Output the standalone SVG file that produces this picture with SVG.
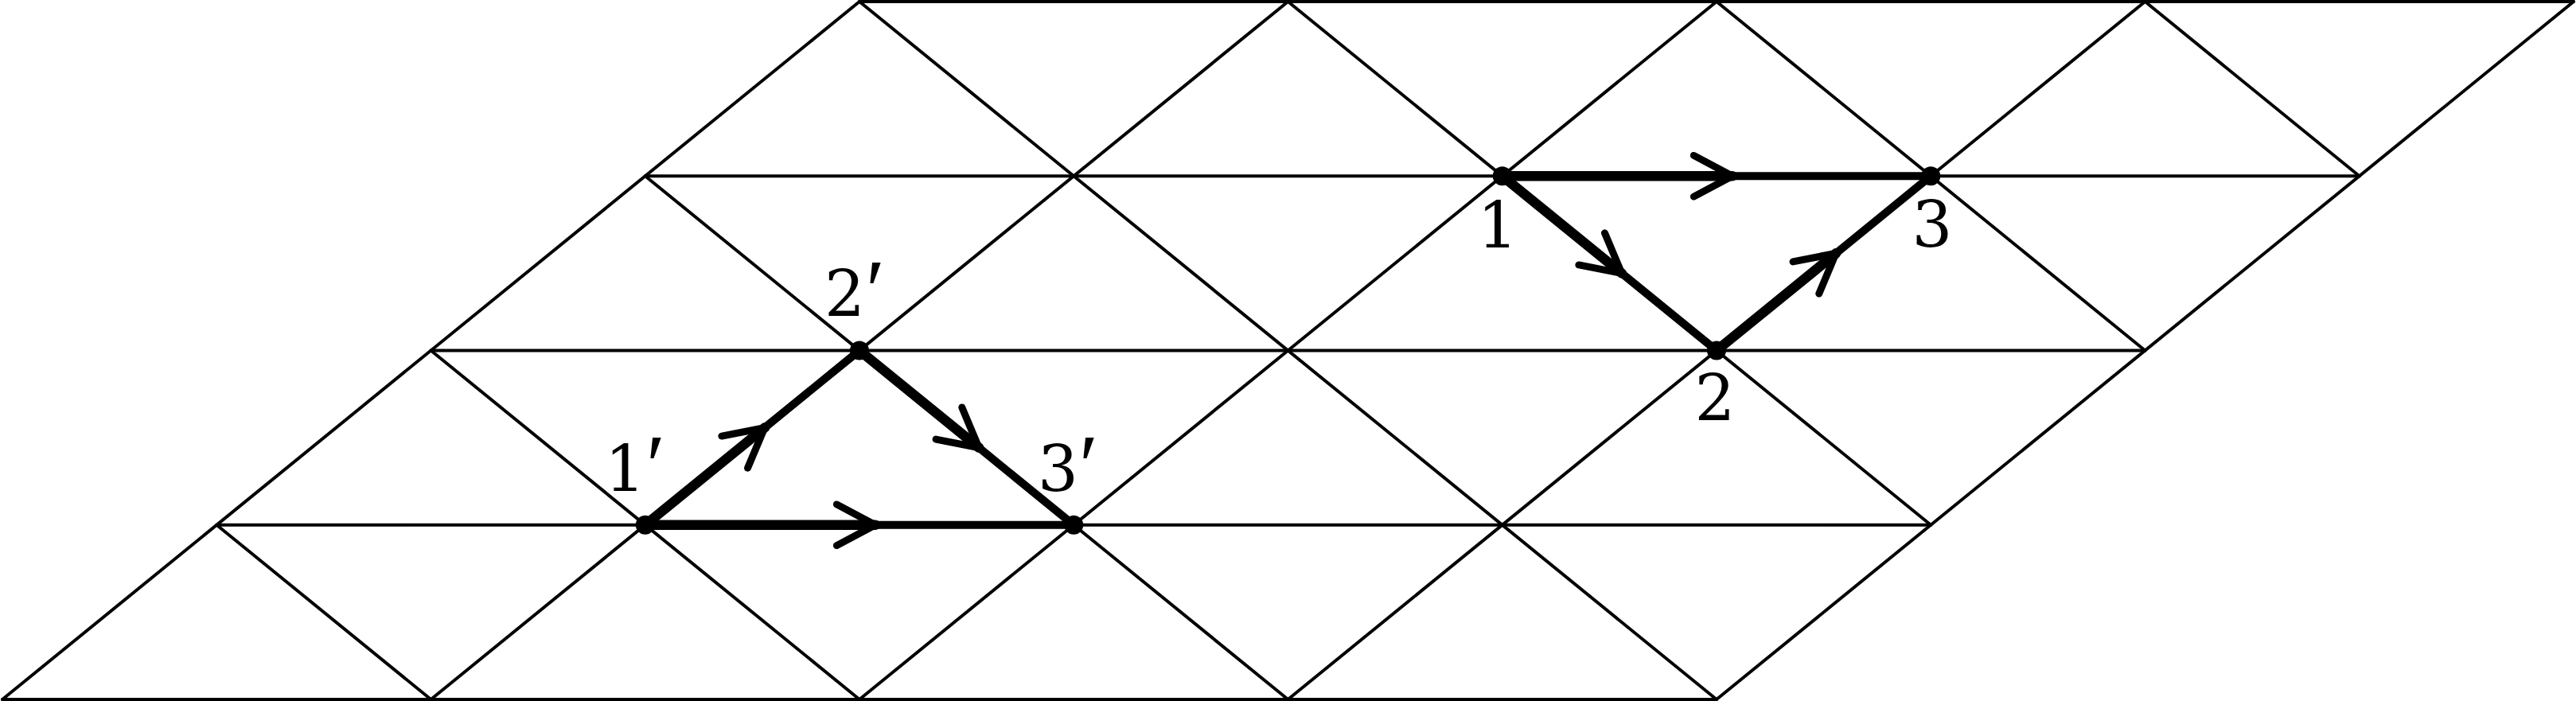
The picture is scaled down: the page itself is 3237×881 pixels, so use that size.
<svg xmlns="http://www.w3.org/2000/svg" width="3237" height="881" viewBox="0 0 3237 881">
<style>
.grid line{stroke:#000;stroke-width:4;stroke-linecap:round}
.path1{stroke:#000;stroke-width:12.5;stroke-linecap:round;fill:none}
.path2{stroke:#000;stroke-width:10;stroke-linecap:round;fill:none}
.chev{stroke:#000;stroke-width:9;stroke-linecap:round;stroke-linejoin:miter;fill:none}
.lbl{font-family:"DejaVu Serif","Liberation Serif",serif;font-size:80px;fill:#000}
.mid{text-anchor:middle}
.pr{font-family:"Liberation Serif",serif;font-size:110px}
</style>
<rect width="3237" height="881" fill="#fff"/>
<g id="grid" class="grid">
<line x1="3" y1="879" x2="2157" y2="879"/>
<line x1="272.25" y1="659.75" x2="2426.25" y2="659.75"/>
<line x1="541.5" y1="440.5" x2="2695.5" y2="440.5"/>
<line x1="810.75" y1="221.25" x2="2964.75" y2="221.25"/>
<line x1="1080" y1="2" x2="3234" y2="2"/>
<line x1="3" y1="879" x2="1080" y2="2"/>
<line x1="541.5" y1="879" x2="1618.5" y2="2"/>
<line x1="1080" y1="879" x2="2157" y2="2"/>
<line x1="1618.5" y1="879" x2="2695.5" y2="2"/>
<line x1="2157" y1="879" x2="3234" y2="2"/>
<line x1="541.5" y1="879" x2="272.25" y2="659.75"/>
<line x1="1080" y1="879" x2="541.5" y2="440.5"/>
<line x1="1618.5" y1="879" x2="810.75" y2="221.25"/>
<line x1="2157" y1="879" x2="1080" y2="2"/>
<line x1="2426.25" y1="659.75" x2="1618.5" y2="2"/>
<line x1="2695.5" y1="440.5" x2="2157" y2="2"/>
<line x1="2964.75" y1="221.25" x2="2695.5" y2="2"/>
</g>
<g id="connectors">
<g id="e1p2p">
<line class="path1" x1="810.75" y1="659.75" x2="960.9" y2="537.5"/>
<line class="path2" x1="960.9" y1="537.5" x2="1080" y2="440.5"/>
<polyline class="chev" points="906.9,548.1 960.9,537.5 939.5,588.2"/>
</g>
<g id="e2p3p">
<line class="path1" x1="1080" y1="440.5" x2="1230.1" y2="562.7"/>
<line class="path2" x1="1230.1" y1="562.7" x2="1349.25" y2="659.75"/>
<polyline class="chev" points="1208.8,512 1230.1,562.7 1176.1,552.1"/>
</g>
<g id="e1p3p">
<line class="path1" x1="810.75" y1="659.75" x2="1100" y2="659.75"/>
<line class="path2" x1="1100" y1="659.75" x2="1349.25" y2="659.75"/>
<polyline class="chev" points="1051.4,633.9 1100,659.75 1051.4,685.6"/>
</g>
<g id="e12">
<line class="path1" x1="1887.75" y1="221.25" x2="2037.9" y2="343.5"/>
<line class="path2" x1="2037.9" y1="343.5" x2="2157" y2="440.5"/>
<polyline class="chev" points="2016.5,292.8 2037.9,343.5 1983.9,332.9"/>
</g>
<g id="e23">
<line class="path1" x1="2157" y1="440.5" x2="2307.1" y2="318.3"/>
<line class="path2" x1="2307.1" y1="318.3" x2="2426.25" y2="221.25"/>
<polyline class="chev" points="2253.1,328.9 2307.1,318.3 2285.8,369"/>
</g>
<g id="e13">
<line class="path1" x1="1887.75" y1="221.25" x2="2177" y2="221.25"/>
<line class="path2" x1="2177" y1="221.25" x2="2426.25" y2="221.25"/>
<polyline class="chev" points="2128.4,195.4 2177,221.25 2128.4,247.1"/>
</g>
</g>
<g id="n1p"><circle cx="810.75" cy="659.75" r="12"/><text class="lbl" x="760" y="617">1<tspan class="pr" dx="1" dy="5">′</tspan></text></g>
<g id="n2p"><circle cx="1080" cy="440.5" r="12"/><text class="lbl" x="1036" y="397">2<tspan class="pr" dx="1" dy="5">′</tspan></text></g>
<g id="n3p"><circle cx="1349.25" cy="659.75" r="12"/><text class="lbl" x="1304" y="617">3<tspan class="pr" dx="1" dy="5">′</tspan></text></g>
<g id="n1"><circle cx="1887.75" cy="221.25" r="12"/><text class="lbl mid" x="1882" y="311">1</text></g>
<g id="n2"><circle cx="2157" cy="440.5" r="12"/><text class="lbl mid" x="2155" y="528">2</text></g>
<g id="n3"><circle cx="2426.25" cy="221.25" r="12"/><text class="lbl mid" x="2428" y="310">3</text></g>
</svg>
